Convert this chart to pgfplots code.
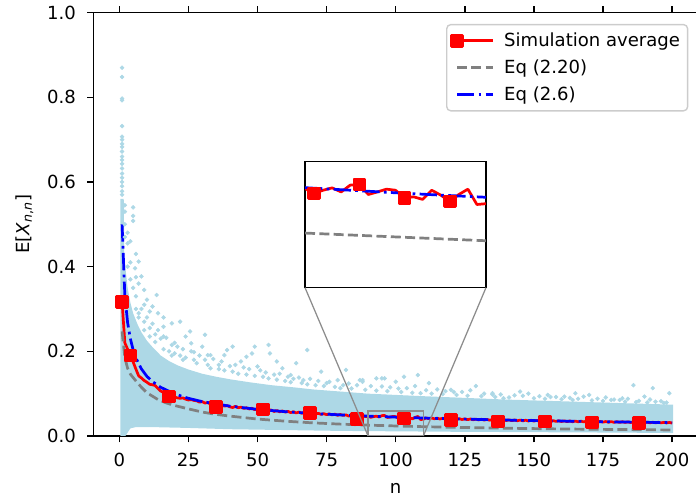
\documentclass[border=0pt]{standalone}
\usepackage{pgfplots}
\pgfplotsset{compat=1.18}
\usepackage{fontspec}
\setmainfont{DejaVu Sans}
\definecolor{lightblue}{HTML}{ADD8E6}
\definecolor{mplgray}{HTML}{808080}
\definecolor{conn}{HTML}{8C8C8C}

\begin{document}
\begin{tikzpicture}
\begin{axis}[
  name=main, at={(0,0)}, anchor=south west,
  scale only axis, width=435.4pt, height=304.8pt,
  xmin=-9.4, xmax=209.4, ymin=0, ymax=1,
  xtick={0,25,50,75,100,125,150,175,200},
  ytick={0,0.2,0.4,0.6,0.8,1.0},
  yticklabel style={xshift=-4.55pt,/pgf/number format/.cd,fixed,fixed zerofill,precision=1},
  /pgf/number format/assume math mode=true,
  font=\fontsize{13}{15.6}\selectfont,
  tick label style={font=\fontsize{13}{15.6}\selectfont},
  xticklabel style={yshift=-4.55pt},
  tick align=outside, major tick length=4.55pt,
  every tick/.style={black, line width=1.04pt},
  axis line style={line width=1.04pt},
  xlabel={n}, ylabel={E[\textit{X}\textsubscript{\textit{n},\textit{n}}]},
  xlabel style={yshift=-5pt},
  ylabel shift=3pt,
  legend cell align=left,
  legend style={at={(1,1)}, anchor=north east, xshift=-7pt, yshift=-8.1pt,
    draw=black!20, line width=1pt, rounded corners=3pt, fill=white,
    inner xsep=3.5pt, inner ysep=4.5pt, row sep=5pt,
    nodes={inner ysep=1.5pt},
    /tikz/every odd column/.append style={column sep=5pt},
    font=\fontsize{13}{15.6}\selectfont},
  legend image code/.code={\draw[mark repeat=2,mark phase=2,#1] plot coordinates {(0pt,0pt) (13pt,0pt) (26pt,0pt)};},
]
% dense sample cloud
\addplot[fill=lightblue, draw=none, forget plot] coordinates {
(0.4,0.0) (0.4,0.56) (1.6,0.56) (1.8,0.42) (3,0.35) (4,0.315) (5,0.29) (6.5,0.265)
(8,0.245) (10,0.225) (12,0.21) (15,0.19) (18,0.177) (21,0.167) (25,0.157) (30,0.147)
(35,0.14) (40,0.134) (47,0.127) (55,0.12) (63,0.115) (70,0.11) (80,0.105) (90,0.1)
(100,0.097) (110,0.094) (125,0.09) (140,0.086) (155,0.083) (170,0.08) (185,0.077) (200.4,0.074)
(200.4,0.007) (180,0.008) (150,0.009) (120,0.01) (100,0.011) (80,0.012) (60,0.014) (40,0.016)
(25,0.019) (12,0.021) (6,0.021) (4,0.018) (3,0.008) (2.2,0.0)
};
% scattered samples
\addplot[only marks, mark=*, mark size=1.4pt, color=lightblue, forget plot] coordinates {
(1,0.87) (1,0.848) (1,0.797) (1,0.793) (1,0.732) (1,0.707) (1,0.70) (1,0.69) (1,0.683) (1,0.672)
(1,0.66) (1,0.652) (1,0.643) (1,0.632) (1,0.62) (1,0.61) (1,0.60) (1,0.59) (1,0.578) (1,0.57)
(2,0.545) (2,0.53) (5,0.54) (5,0.52) (5,0.508) (2,0.5) (3,0.48) (4,0.46) (3,0.455) (2,0.47)
(6,0.43) (7,0.412) (5.7,0.396) (8,0.377) (4,0.41) (9,0.345) (13.5,0.333) (10,0.322) (12,0.306) (11,0.294)
(7,0.36) (6,0.375) (9,0.31) (14,0.29) (16,0.28) (19,0.266) (22,0.27) (16,0.258) (25.6,0.247) (24,0.235)
(31,0.239) (26,0.219) (16,0.235) (21,0.211) (30,0.211) (33,0.191) (39,0.203) (41,0.211) (36,0.168) (46,0.187)
(49,0.211) (54,0.215) (54.5,0.195) (50,0.164) (44,0.176) (57,0.176) (59,0.16) (62,0.144) (68,0.203) (66.6,0.132)
(73,0.152) (79,0.132) (82,0.156) (87,0.132) (93,0.136) (96,0.136) (100,0.128) (103,0.14) (95,0.136) (108,0.144)
(129,0.118) (135,0.101) (145,0.105) (155,0.097) (170,0.097) (186,0.12) (193,0.113) (199,0.101) (182,0.089) (88,0.128)
(112,0.125) (120,0.109) (139,0.089) (161,0.093) (165,0.101) (178,0.085) (190,0.093) (38,0.191) (32,0.191) (48,0.195)
(64,0.172) (88,0.132)
(3,0.40) (4,0.37) (5,0.35) (6,0.33) (8,0.30) (10,0.28) (12,0.265) (14,0.25) (17,0.232) (20,0.22)
(23,0.205) (27,0.198) (29,0.19) (34,0.182) (37,0.176) (42,0.168) (45,0.162) (51,0.155) (53,0.15) (58,0.147)
(61,0.14) (65,0.138) (69,0.135) (72,0.13) (76,0.128) (83,0.124) (86,0.12) (91,0.118) (98,0.115) (104,0.113)
(107,0.118) (115,0.11) (118,0.106) (124,0.104) (127,0.108) (132,0.1) (138,0.098) (143,0.096) (148,0.1) (152,0.094)
(158,0.092) (163,0.09) (168,0.093) (173,0.088) (176,0.091) (181,0.085) (184,0.088) (188,0.083) (192,0.086) (196,0.082)
(198,0.079) (19,0.215) (26,0.2) (31,0.18) (40,0.165) (47,0.158) (56,0.145) (63,0.135) (75,0.125) (81,0.12)
(95,0.117) (101,0.112) (111,0.108) (121,0.104) (135,0.098) (146,0.095) (156,0.092) (166,0.088) (179,0.086) (194,0.081)
(18,0.2) (20,0.195) (22,0.19) (24,0.185) (27,0.18) (28,0.172) (32,0.168) (33,0.16) (36,0.158) (38,0.155)
(41,0.152) (43,0.147) (46,0.145) (49,0.142) (52,0.14) (54,0.136) (57,0.133) (60,0.13) (62,0.127) (66,0.125)
(68,0.122) (71,0.12) (74,0.118) (78,0.116) (80,0.113) (84,0.112) (89,0.109) (93,0.107) (97,0.106) (102,0.104)
(106,0.102) (109,0.101) (113,0.1) (117,0.099) (122,0.097) (126,0.095) (131,0.094) (136,0.092) (141,0.091) (150,0.089)
(154,0.088) (160,0.087) (164,0.085) (171,0.084) (175,0.083) (183,0.081) (187,0.08) (191,0.079) (197,0.078) (7,0.29)
(9,0.27) (11,0.255) (13,0.24) (15,0.23) (6,0.3) (7,0.28) (9,0.25) (11,0.235) (13,0.222) (16,0.205) (19,0.19) (23,0.18)
};
% Simulation average
\addplot[color=red, line width=1.95pt, line join=round, mark=square*, mark size=3.9pt,
  mark indices={1,4,18,35,52,69,86,103,120,137,154,171,188}] coordinates {
(1,0.317) (2,0.22) (3,0.205) (4,0.19) (5,0.175) (6,0.158) (7,0.142) (8,0.137) (9,0.131) (10,0.127)
(11,0.122) (12,0.121) (13,0.119) (14,0.112) (15,0.106) (16,0.103) (17,0.097) (18,0.093) (19,0.094) (20,0.092)
(21,0.090) (22,0.089) (23,0.090) (24,0.087) (25,0.085) (26,0.086) (27,0.084) (28,0.083) (29,0.080) (30,0.081)
(31,0.0778) (32,0.0790) (33,0.0751) (34,0.0722) (35,0.0690) (36,0.0731) (37,0.0745) (38,0.0705) (39,0.0718) (40,0.0689)
(41,0.0672) (42,0.0701) (43,0.0668) (44,0.0680) (45,0.0652) (46,0.0667) (47,0.0638) (48,0.0655) (49,0.0621) (50,0.0640)
(51,0.0612) (52,0.0630) (53,0.0598) (54,0.0619) (55,0.0611) (56,0.0578) (57,0.0601) (58,0.0571) (59,0.0590) (60,0.0566)
(61,0.0582) (62,0.0551) (63,0.0572) (64,0.0544) (65,0.0566) (66,0.0537) (67,0.0556) (68,0.0529) (69,0.0538) (70,0.0545)
(71,0.0519) (72,0.0536) (73,0.0510) (74,0.0527) (75,0.0503) (76,0.0522) (77,0.0498) (78,0.0515) (79,0.0489) (80,0.0507)
(81,0.0486) (82,0.0499) (83,0.0470) (84,0.0492) (85,0.0455) (86,0.0400) (87,0.0452) (88,0.0481) (89,0.0460) (90,0.0465)
(91,0.0442) (92,0.0457) (93,0.0468) (94,0.0449) (95,0.0481) (96,0.0484) (97,0.0437) (98,0.0449) (99,0.0462) (100,0.0457)
(101,0.0421) (102,0.0426) (103,0.0414) (104,0.0457) (105,0.0434) (106,0.0405) (107,0.0437) (108,0.0462) (109,0.0390) (110,0.0394)
(111,0.0428) (112,0.0409) (113,0.0425) (114,0.0406) (115,0.0421) (116,0.0402) (117,0.0418) (118,0.0399) (119,0.0414) (120,0.0382)
(121,0.0410) (122,0.0395) (123,0.0409) (124,0.0389) (125,0.0404) (126,0.0386) (127,0.0401) (128,0.0384) (129,0.0398) (130,0.0379)
(131,0.0395) (132,0.0376) (133,0.0392) (134,0.0373) (135,0.0389) (136,0.0371) (137,0.0345) (138,0.0372) (139,0.0384) (140,0.0366)
(141,0.0381) (142,0.0362) (143,0.0378) (144,0.0360) (145,0.0376) (146,0.0357) (147,0.0373) (148,0.0355) (149,0.0371) (150,0.0352)
(151,0.0369) (152,0.0350) (153,0.0366) (154,0.0342) (155,0.0362) (156,0.0346) (157,0.0361) (158,0.0344) (159,0.0359) (160,0.0342)
(161,0.0357) (162,0.0340) (163,0.0355) (164,0.0337) (165,0.0352) (166,0.0335) (167,0.0350) (168,0.0333) (169,0.0348) (170,0.0332)
(171,0.0323) (172,0.0345) (173,0.0329) (174,0.0343) (175,0.0327) (176,0.0341) (177,0.0325) (178,0.0339) (179,0.0323) (180,0.0337)
(181,0.0321) (182,0.0336) (183,0.0320) (184,0.0334) (185,0.0318) (186,0.0332) (187,0.0317) (188,0.0305) (189,0.0329) (190,0.0314)
(191,0.0327) (192,0.0312) (193,0.0326) (194,0.0311) (195,0.0324) (196,0.0309) (197,0.0322) (198,0.0308) (199,0.0320) (200,0.0306)
};
\addlegendentry{Simulation average}
% Eq (2.20)
\addplot[color=mplgray, line width=1.95pt, dash pattern=on 7.2pt off 3.1pt] coordinates {
(1,0.247) (2,0.185) (3,0.16) (4,0.146) (5,0.138) (6,0.130) (8,0.115) (10,0.102) (12,0.094) (14,0.086)
(17,0.078) (20,0.072) (25,0.064) (30,0.0565) (35,0.051) (40,0.047) (50,0.040) (60,0.035) (70,0.031) (80,0.028)
(90,0.0256) (100,0.0237) (110,0.0220) (120,0.0206) (140,0.0183) (160,0.0166) (180,0.0153) (200,0.0142)
};
\addlegendentry{Eq (2.20)}
% Eq (2.6)
\addplot[color=blue, line width=1.95pt, dash pattern=on 12.5pt off 3.1pt on 1.95pt off 3.1pt] coordinates {
(1,0.500) (2,0.332) (3,0.268) (4,0.230) (5,0.2035) (6,0.1846) (8,0.1584) (10,0.1407) (12,0.1285) (15,0.1149)
(20,0.0995) (25,0.089) (30,0.0812) (40,0.0704) (50,0.0629) (60,0.0575) (70,0.0532) (80,0.0498) (90,0.0469) (100,0.0445)
(110,0.0424) (120,0.0406) (140,0.0376) (160,0.0352) (180,0.0332) (200,0.0315)
};
\addlegendentry{Eq (2.6)}
\draw[conn, line width=0.9pt] (axis cs:90,0) rectangle (axis cs:110,0.0591);
\coordinate (zl) at (axis cs:90,0);
\coordinate (zr) at (axis cs:110,0);
\end{axis}

\begin{axis}[
  name=ins, at={(152.4pt,106.8pt)}, anchor=south west,
  scale only axis, width=130.3pt, height=90.7pt,
  xmin=90, xmax=110, ymin=0, ymax=0.0591,
  xtick=\empty, ytick=\empty,
  axis line style={line width=1.04pt},
  axis background/.style={fill=white},
]
\addplot[color=red, line width=1.95pt, line join=round, mark=square*, mark size=3.9pt,
  mark indices={2,7,12,17}] coordinates {
(90,0.0465) (91,0.0442) (92,0.0457) (93,0.0468) (94,0.0449) (95,0.0481) (96,0.0484) (97,0.0437) (98,0.0449) (99,0.0462) (100,0.0457)
(101,0.0421) (102,0.0426) (103,0.0414) (104,0.0457) (105,0.0434) (106,0.0405) (107,0.0437) (108,0.0462) (109,0.0390) (110,0.0394)
};
\addplot[color=mplgray, line width=1.95pt, dash pattern=on 7.2pt off 3.1pt] coordinates {
(90,0.0256) (95,0.0247) (100,0.0238) (105,0.0229) (110,0.0220)
};
\addplot[color=blue, line width=1.95pt, dash pattern=on 12.5pt off 3.1pt on 1.95pt off 3.1pt] coordinates {
(90,0.0469) (95,0.0457) (100,0.0445) (105,0.0434) (110,0.0424)
};
\end{axis}
\draw[conn, line width=0.9pt] (zl) -- (ins.south west);
\draw[conn, line width=0.9pt] (zr) -- (ins.south east);
\pgfresetboundingbox
\path[use as bounding box] (-67.2pt,-46.8pt) rectangle (433.9pt,313.9pt);
\end{tikzpicture}
\end{document}
